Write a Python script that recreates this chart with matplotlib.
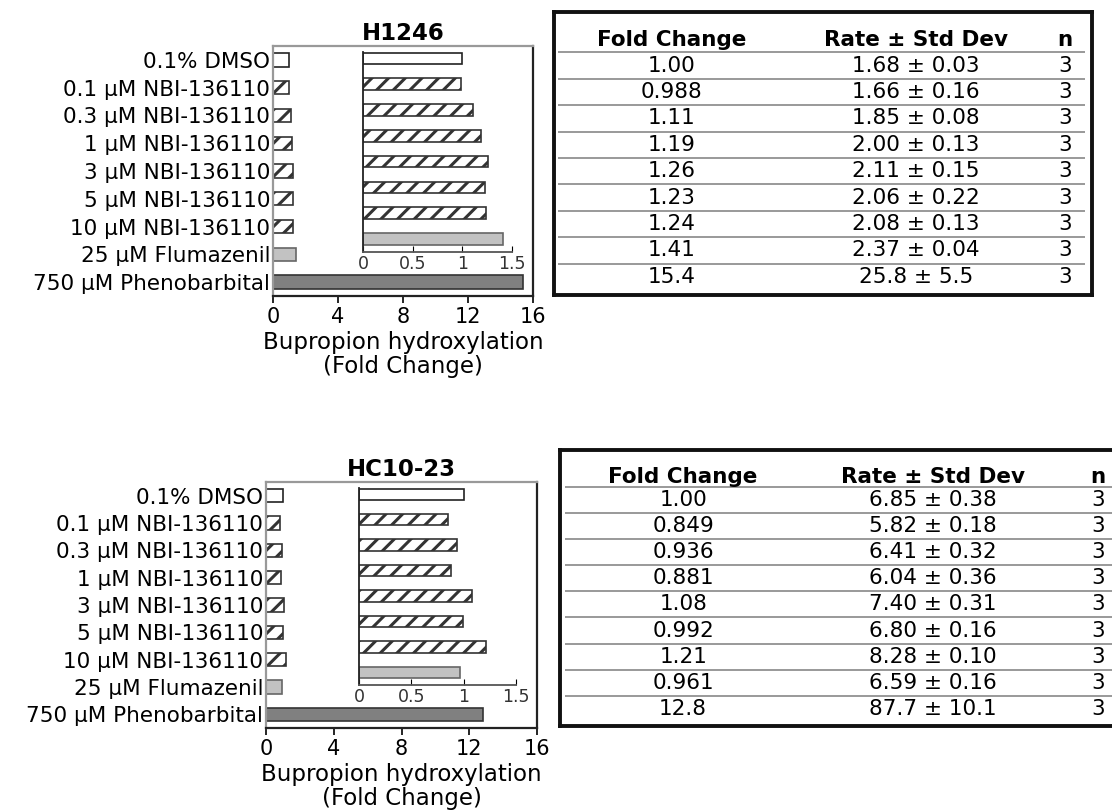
import matplotlib.pyplot as plt

W, H = 1112, 810

# treatments (same for both cell lines)
treatments = ['0.1% DMSO', '0.1 µM NBI-136110', '0.3 µM NBI-136110', '1 µM NBI-136110',
              '3 µM NBI-136110', '5 µM NBI-136110', '10 µM NBI-136110',
              '25 µM Flumazenil', '750 µM Phenobarbital']

# H1246
h1246_fold = [1.00, 0.988, 1.11, 1.19, 1.26, 1.23, 1.24, 1.41, 15.4]
h1246_rate = ['1.68 ± 0.03', '1.66 ± 0.16', '1.85 ± 0.08', '2.00 ± 0.13', '2.11 ± 0.15',
              '2.06 ± 0.22', '2.08 ± 0.13', '2.37 ± 0.04', '25.8 ± 5.5']
h1246_n = [3, 3, 3, 3, 3, 3, 3, 3, 3]

# HC10-23
hc1023_fold = [1.00, 0.849, 0.936, 0.881, 1.08, 0.992, 1.21, 0.961, 12.8]
hc1023_rate = ['6.85 ± 0.38', '5.82 ± 0.18', '6.41 ± 0.32', '6.04 ± 0.36', '7.40 ± 0.31',
               '6.80 ± 0.16', '8.28 ± 0.10', '6.59 ± 0.16', '87.7 ± 10.1']
hc1023_n = [3, 3, 3, 3, 3, 3, 3, 3, 3]

main_ticks = [0, 4, 8, 12, 16]
inset_ticks = [0, 0.5, 1, 1.5]
inset_ticklabels = ['0', '0.5', '1', '1.5']

plt.rcParams['hatch.linewidth'] = 2.2
plt.rcParams['hatch.color'] = 'black'

white = dict(facecolor='white', edgecolor='#222')
hatched = dict(facecolor='white', edgecolor='#333', hatch='//')
styles = [white] + [hatched] * 6 + [dict(facecolor='#c2c2c2', edgecolor='#666'),
                                    dict(facecolor='#808080', edgecolor='#333')]


def rect(l, t, r, b):
    # pixel box -> figure fraction
    return [l / W, 1 - b / H, (r - l) / W, (b - t) / H]


fig = plt.figure(figsize=(W / 100, H / 100), dpi=100)


def draw_panel(title, fold, main_box, inset_box):
    ax = fig.add_axes(rect(*main_box))
    for i, v in enumerate(fold):
        ax.barh(i, v, height=0.48, linewidth=1.2, **styles[i])
    ax.set_xlim(0, 16)
    ax.set_ylim(8.5, -0.5)
    ax.set_xticks(main_ticks)
    ax.set_yticks(range(len(treatments)))
    ax.set_yticklabels(treatments, fontsize=15.5)
    ax.tick_params(axis='y', length=0, pad=2)
    ax.tick_params(axis='x', direction='out', length=5, width=1.2, labelsize=15, pad=3)
    for s in ['left', 'top']:
        ax.spines[s].set_color('#999999')
    for s in ['right', 'bottom']:
        ax.spines[s].set_color('#222222')
    for s in ax.spines.values():
        s.set_linewidth(1.6)
    ax.set_title(title, fontsize=16.5, fontweight='bold', pad=4)
    ax.set_xlabel('Bupropion hydroxylation\n(Fold Change)', fontsize=16.5, labelpad=3,
                  linespacing=1.05)

    ins = fig.add_axes(rect(*inset_box))
    ins.patch.set_alpha(0)
    for i, v in enumerate(fold[:-1]):
        ins.barh(i, v, height=0.45, linewidth=1.2, **styles[i])
    ins.set_xlim(0, 1.5)
    ins.set_ylim(7.5, -0.25)
    ins.set_xticks(inset_ticks)
    ins.set_xticklabels(inset_ticklabels)
    ins.set_yticks([])
    ins.tick_params(axis='x', direction='in', length=4, labelsize=12.5, labelcolor='#333333', pad=2)
    ins.spines['top'].set_visible(False)
    ins.spines['right'].set_visible(False)
    ins.spines['left'].set_color('#222222')
    ins.spines['bottom'].set_color('#555555')
    for s in ins.spines.values():
        s.set_linewidth(1.3)


def draw_table(box, fold, rate, n, ylim, header_y, line_x, cols):
    ax = fig.add_axes(rect(*box))
    ax.set_xlim(0, 1)
    ax.set_ylim(*ylim)
    ax.set_xticks([])
    ax.set_yticks([])
    for s in ax.spines.values():
        s.set_linewidth(2.8)
        s.set_color('#111111')
    heads = ['Fold Change', 'Rate ± Std Dev', 'n']
    for x, t in zip(cols, heads):
        ax.text(x, header_y, t, ha='center', va='center', fontsize=15.5, fontweight='bold')
    for i in range(len(fold)):
        ax.hlines(i - 0.5, line_x[0], line_x[1], color='#999999', linewidth=1.4)
        ax.text(cols[0], i, f'{fold[i]:#.3g}', ha='center', va='center', fontsize=15.5)
        ax.text(cols[1], i, rate[i], ha='center', va='center', fontsize=15.5)
        ax.text(cols[2], i, str(n[i]), ha='center', va='center', fontsize=15.5)


draw_panel('H1246', h1246_fold, (273, 46, 533, 296), (363, 52, 512, 252))
draw_panel('HC10-23', hc1023_fold, (266, 482, 537, 728), (359, 488, 516, 685))

draw_table((554, 12, 1092, 295), h1246_fold, h1246_rate, h1246_n,
           (8.69, -2.03), -0.97, (0.007, 0.987), (0.219, 0.673, 0.95))
draw_table((560, 450, 1125, 726), hc1023_fold, hc1023_rate, hc1023_n,
           (8.66, -1.92), -0.88, (0.009, 1.0), (0.218, 0.66, 0.952))

fig.savefig('out.png', dpi=100)
